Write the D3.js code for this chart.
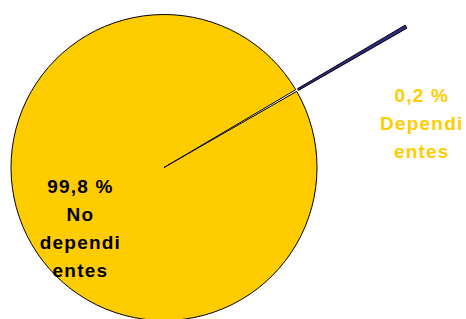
<!DOCTYPE html>
<html>
<head>
<meta charset="utf-8">
<script src="https://cdn.jsdelivr.net/npm/d3@7"></script>
<style>
  body { margin: 0; background: #fff; }
  text { font-family: "Liberation Sans", Arial, sans-serif; font-weight: bold; }
</style>
</head>
<body>
<svg id="chart"></svg>
<script>
// Data
const categories = ["Dependientes", "No dependientes"];
const values = [0.2, 99.8];
// label text, already broken in lines like the original
const labelLines = [
  ["0,2 %", "Dependi", "entes"],
  ["99,8 %", "No", "dependi", "entes"]
];

const width = 466;
const height = 319;
const cx = 164, cy = 167.5;
const radius = 153;

const colors = d3.scaleOrdinal()
  .domain(categories)
  .range(["#2b2b85", "#ffcc00"]);
const labelColors = ["#ffcc00", "#000"];

const svg = d3.select("#chart")
  .attr("width", width)
  .attr("height", height);

const g = svg.append("g")
  .attr("transform", `translate(${cx}, ${cy})`);

// first slice (small one) sits around 60 degrees, like the excel chart
const start = 59.44 * Math.PI / 180;
const pie = d3.pie()
  .sort(null)
  .value((d) => d.value)
  .startAngle(start)
  .endAngle(start + 2 * Math.PI);

const data = categories.map((c, i) => ({ name: c, value: values[i], lines: labelLines[i], color: labelColors[i] }));
const arcs = pie(data);

const arcMain = d3.arc().innerRadius(0).outerRadius(radius);
// exploded slice: pulled out past the rim
const arcExploded = d3.arc().innerRadius(radius + 2).outerRadius(radius * 1.83);

g.selectAll("path")
  .data(arcs)
  .enter().append("path")
  .attr("d", (d, i) => i === 0 ? arcExploded(d) : arcMain(d))
  .attr("fill", (d) => colors(d.data.name))
  .attr("stroke", "#000")
  .attr("stroke-width", 1);

// Labels
const lineH = 28;
const labelPos = [
  (d) => { const p = d3.arc().innerRadius(radius * 1.7).outerRadius(radius * 1.7).centroid(d); return [p[0] + 33, p[1] + 87]; },
  (d) => { const p = d3.arc().innerRadius(radius * 0.67).outerRadius(radius * 0.67).centroid(d); return [p[0] + 5, p[1] + 9]; }
];

arcs.forEach((d, i) => {
  const [x, y] = labelPos[i](d);
  const n = d.data.lines.length;
  const t = g.append("text")
    .attr("text-anchor", "middle")
    .attr("font-size", "19px")
    .attr("letter-spacing", "1.2px")
    .attr("fill", d.data.color);
  d.data.lines.forEach((line, j) => {
    t.append("tspan")
      .attr("x", x)
      .attr("y", y + (j - (n - 1) / 2) * lineH)
      .attr("dy", "0.35em")
      .text(line);
  });
});
</script>
</body>
</html>
